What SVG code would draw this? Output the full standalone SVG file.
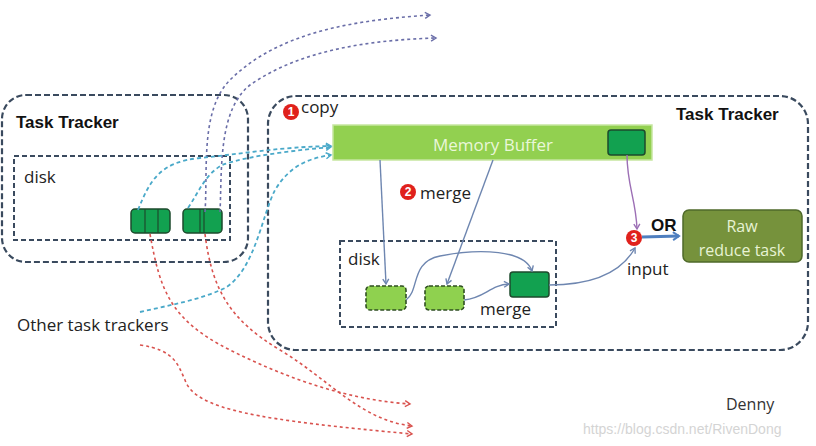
<svg xmlns="http://www.w3.org/2000/svg" width="816" height="446" viewBox="0 0 816 446">
<defs>
<style>
.tt{fill:none;stroke:#3a4a5e;stroke-width:2.2;stroke-dasharray:6 3}
.disk{fill:none;stroke:#3a4a5e;stroke-width:2;stroke-dasharray:5 3}
.lbl{font-family:"Open Sans","Liberation Sans",sans-serif;fill:#222}
.bold{font-family:"Liberation Sans",sans-serif;font-weight:bold;fill:#111}
.red{fill:none;stroke:#d9534f;stroke-width:1.6;stroke-dasharray:3 3}
.gray{fill:none;stroke:#6a6ea8;stroke-width:1.6;stroke-dasharray:3 3}
.teal{fill:none;stroke:#4aa9c9;stroke-width:1.8;stroke-dasharray:4 3}
.solid{fill:none;stroke:#6e86b0;stroke-width:1.4}
.blk{fill:#12a150;stroke:#1d4a2c;stroke-width:1.5}
.lgb{fill:#8fd14f;stroke:#2f4f22;stroke-width:1.6;stroke-dasharray:4 2}
.num{fill:#e0211c}
.numt{font-family:"Liberation Sans",sans-serif;font-size:12px;fill:#fff;font-weight:bold;text-anchor:middle}
</style>
<marker id="ar" markerWidth="8" markerHeight="8" refX="6" refY="4" orient="auto" markerUnits="userSpaceOnUse"><path d="M1,1 L6,4 L1,7" fill="none" stroke="context-stroke" stroke-width="1.4"/></marker>
<marker id="ar2" markerWidth="10" markerHeight="10" refX="7" refY="5" orient="auto" markerUnits="userSpaceOnUse"><path d="M1,1 L7,5 L1,9" fill="none" stroke="#4f7fbf" stroke-width="2"/></marker>
</defs>

<g id="left-tracker">
<rect class="tt" x="2" y="95" width="246" height="167" rx="24"/>
<text class="bold" x="16" y="128" font-size="17">Task Tracker</text>
</g>
<g id="left-disk">
<rect class="disk" x="14" y="156" width="216" height="84"/>
<text class="lbl" x="24" y="183" font-size="17">disk</text>
<rect class="blk" x="131" y="209" width="39" height="24" rx="4"/>
<line x1="145" y1="209" x2="145" y2="233" stroke="#1d4a2c" stroke-width="1.2"/>
<line x1="158" y1="209" x2="158" y2="233" stroke="#1d4a2c" stroke-width="1.2"/>
<rect class="blk" x="183" y="209" width="39" height="24" rx="4"/>
<line x1="200" y1="209" x2="200" y2="233" stroke="#1d4a2c" stroke-width="1.2"/>
<line x1="204" y1="209" x2="204" y2="233" stroke="#1d4a2c" stroke-width="1.2"/>
</g>

<g id="right-tracker">
<rect class="tt" x="268" y="96" width="540" height="254" rx="28"/>
<text class="bold" x="676" y="120" font-size="17">Task Tracker</text>
</g>

<g id="memory-buffer">
<rect x="333" y="125" width="319" height="35" fill="#92d050" stroke="#c6e6a0" stroke-width="1.5"/>
<text x="493" y="151" font-family="Open Sans,Liberation Sans,sans-serif" font-size="17" fill="#eaf7d9" text-anchor="middle">Memory Buffer</text>
<rect class="blk" x="608" y="130" width="37" height="25" rx="3"/>
</g>

<g id="right-disk">
<rect class="disk" x="340" y="241" width="216" height="86"/>
<text class="lbl" x="348" y="265" font-size="17">disk</text>
<rect class="lgb" x="366" y="286" width="40" height="24" rx="4"/>
<rect class="lgb" x="425" y="286" width="39" height="24" rx="4"/>
<rect class="blk" x="510" y="272" width="39" height="25" rx="3"/>
<text class="lbl" x="480" y="315" font-size="17">merge</text>
</g>

<g id="reduce-task">
<rect x="683" y="210" width="119" height="52" rx="6" fill="#76923c" stroke="#4f6a2a" stroke-width="1.5"/>
<text x="742" y="232" font-family="Open Sans,Liberation Sans,sans-serif" font-size="16" fill="#e8f3d4" text-anchor="middle">Raw</text>
<text x="742" y="256" font-family="Open Sans,Liberation Sans,sans-serif" font-size="16" fill="#e8f3d4" text-anchor="middle">reduce task</text>
</g>

<g id="labels">
<circle class="num" cx="291" cy="112" r="8"/><text class="numt" x="291" y="116">1</text>
<text class="lbl" x="301" y="113" font-size="17">copy</text>
<circle class="num" cx="408" cy="192" r="8"/><text class="numt" x="408" y="196">2</text>
<text class="lbl" x="420" y="199" font-size="17">merge</text>
<circle class="num" cx="634" cy="238" r="8"/><text class="numt" x="634" y="242">3</text>
<text class="bold" x="651" y="231" font-size="17">OR</text>
<text class="lbl" x="627" y="275" font-size="17">input</text>
<text class="lbl" x="17" y="331" font-size="17">Other task trackers</text>
<text x="726" y="410" font-family="Open Sans,Liberation Sans,sans-serif" font-size="16" fill="#333">Denny</text>
<text x="583" y="434" font-family="Liberation Sans,sans-serif" font-size="14" fill="#d4d4d4">https://blog.csdn.net/RivenDong</text>
</g>

<g id="connectors">
<path class="gray" d="M205,212 C208,170 200,110 230,80 C280,30 360,20 430,15" marker-end="url(#ar)"/>
<path class="gray" d="M220,212 C222,170 218,110 250,85 C300,50 370,40 436,38" marker-end="url(#ar)"/>
<path class="teal" d="M138,210 C150,180 160,162 200,158 C240,154 280,147 331,146" marker-end="url(#ar)"/>
<path class="teal" d="M188,208 C200,190 205,175 222,165 C250,155 300,150 331,147" marker-end="url(#ar)"/>
<path class="teal" d="M140,312 C170,305 200,300 225,288 C255,270 262,215 275,190 C290,165 310,158 331,155" marker-end="url(#ar)"/>
<path class="red" d="M150,234 C160,290 170,320 230,350 C290,380 350,400 410,404" marker-end="url(#ar)"/>
<path class="red" d="M205,234 C212,290 230,320 280,350 C330,380 360,420 412,426" marker-end="url(#ar)"/>
<path class="red" d="M140,345 C175,350 178,365 185,380 C195,410 260,420 412,434" marker-end="url(#ar)"/>
<path class="solid" d="M380,160 L386,284" marker-end="url(#ar)"/>
<path class="solid" d="M493,160 L447,284" marker-end="url(#ar)"/>
<path class="solid" d="M406,300 C420,290 410,262 440,256 C480,248 525,250 532,271" marker-end="url(#ar)"/>
<path class="solid" d="M464,300 C485,298 490,285 509,284" marker-end="url(#ar)"/>
<path class="solid" d="M549,285 C590,285 620,275 635,248" marker-end="url(#ar)"/>
<path fill="none" stroke="#9c6fb5" stroke-width="1.4" d="M627,155 C627,185 636,200 637,229" marker-end="url(#ar)"/>
<path fill="none" stroke="#4f7fbf" stroke-width="3" d="M642,237 L679,236" marker-end="url(#ar2)"/>
</g>
</svg>
